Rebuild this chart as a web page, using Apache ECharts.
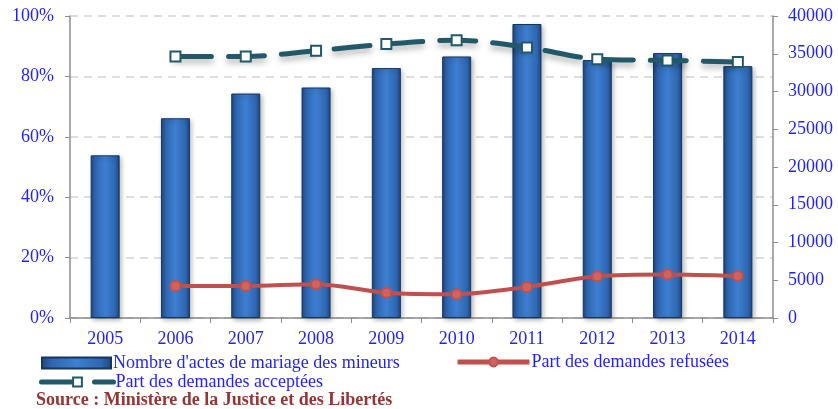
<!DOCTYPE html>
<html>
<head>
<meta charset="utf-8">
<script src="https://cdn.jsdelivr.net/npm/echarts@6/dist/echarts.min.js"></script>
<style>
  html, body { margin: 0; padding: 0; background: #fff; }
</style>
</head>
<body>
<div id="chart" style="width: 838px; height: 409px"></div>
<script>
var years = ['2005', '2006', '2007', '2008', '2009', '2010', '2011', '2012', '2013', '2014']
var actes = [21550, 26460, 29730, 30530, 33100, 34640, 38940, 34160, 35090, 33360]
var refusees = [null, 10.6, 10.6, 11.2, 8.4, 7.9, 10.3, 13.8, 14.4, 13.9]
var acceptees = [null, 86.6, 86.6, 88.5, 90.7, 92.0, 89.6, 85.7, 85.3, 84.8]

var blue = '#1f1fff'
var serif = 'Liberation Serif'

var myChart = echarts.init(document.getElementById('chart'))
myChart.setOption({
  animation: false,
  grid: {
    left: 70,
    right: 65,
    top: 16,
    bottom: 91
  },
  xAxis: {
    type: 'category',
    data: years,
    axisLine: { lineStyle: { color: '#8c8c8c', width: 1.5 } },
    axisTick: { show: true, length: 5, lineStyle: { color: '#8c8c8c' } },
    axisLabel: { color: blue, fontFamily: serif, fontSize: 18, margin: 12 }
  },
  yAxis: [
    {
      type: 'value',
      min: 0,
      max: 100,
      interval: 20,
      axisLine: { show: true, lineStyle: { color: '#8c8c8c', width: 1.5 } },
      axisTick: { show: true, length: 5, lineStyle: { color: '#8c8c8c' } },
      axisLabel: { color: blue, fontFamily: serif, fontSize: 18, formatter: '{value}%', margin: 16 },
      splitLine: { lineStyle: { color: '#d3d3d3', type: [8, 6], width: 1.5 } }
    },
    {
      type: 'value',
      min: 0,
      max: 40000,
      interval: 5000,
      axisLine: { show: true, lineStyle: { color: '#8c8c8c', width: 1.5 } },
      axisTick: { show: true, length: 5, lineStyle: { color: '#8c8c8c' } },
      axisLabel: {
        color: blue, fontFamily: serif, fontSize: 18, margin: 15,
        formatter: function (v) { return String(v) }
      },
      splitLine: { show: false }
    }
  ],
  legend: [
    {
      left: 36, top: 349,
      icon: 'rect',
      itemWidth: 69, itemHeight: 11,
      textStyle: { color: blue, fontFamily: serif, fontSize: 18, padding: [0, 0, 0, -3] },
      data: ["Nombre d'actes de mariage des mineurs"]
    },
    {
      left: 450, top: 348,
      itemWidth: 72, itemHeight: 11,
      lineStyle: { width: 5 },
      textStyle: { color: blue, fontFamily: serif, fontSize: 18, padding: [0, 0, 0, -3] },
      data: ['Part des demandes refusées']
    },
    {
      left: 34, top: 368,
      itemWidth: 72, itemHeight: 11,
      lineStyle: { width: 5 },
      textStyle: { color: blue, fontFamily: serif, fontSize: 18, padding: [0, 0, 0, -3] },
      data: ['Part des demandes acceptées']
    }
  ],
  graphic: [
    {
      type: 'text',
      left: 36,
      top: 391,
      style: {
        text: 'Source : Ministère de la Justice et des Libertés',
        fill: '#943634',
        font: 'bold 18px "Liberation Serif"'
      }
    }
  ],
  series: [
    {
      name: "Nombre d'actes de mariage des mineurs",
      type: 'bar',
      yAxisIndex: 1,
      data: actes,
      barWidth: 29,
      itemStyle: {
        color: new echarts.graphic.LinearGradient(0, 0, 1, 0, [
          { offset: 0, color: '#1c4680' },
          { offset: 0.15, color: '#2f66b0' },
          { offset: 0.5, color: '#3d7fd2' },
          { offset: 0.85, color: '#2f66b0' },
          { offset: 1, color: '#1c4680' }
        ]),
        borderColor: '#17365d',
        borderWidth: 1,
        shadowColor: 'rgba(0,0,0,0.3)',
        shadowBlur: 5,
        shadowOffsetX: 2,
        shadowOffsetY: 2
      },
      z: 1
    },
    {
      name: 'Part des demandes refusées',
      type: 'line',
      yAxisIndex: 0,
      data: refusees,
      smooth: 0.3,
      symbol: 'circle',
      symbolSize: 10,
      itemStyle: { color: '#d06360', borderColor: '#c0504d', borderWidth: 2 },
      lineStyle: { color: '#c0504d', width: 4 },
      z: 3
    },
    {
      name: 'Part des demandes acceptées',
      type: 'line',
      yAxisIndex: 0,
      data: acceptees,
      smooth: 0.3,
      symbol: 'rect',
      symbolSize: 10,
      itemStyle: { color: '#ffffff', borderColor: '#215968', borderWidth: 2 },
      lineStyle: {
        color: '#215968',
        width: 5,
        type: [36, 17],
        cap: 'round',
        shadowColor: 'rgba(0,0,0,0.3)',
        shadowBlur: 6,
        shadowOffsetY: 4
      },
      z: 3
    }
  ]
})
</script>
</body>
</html>
